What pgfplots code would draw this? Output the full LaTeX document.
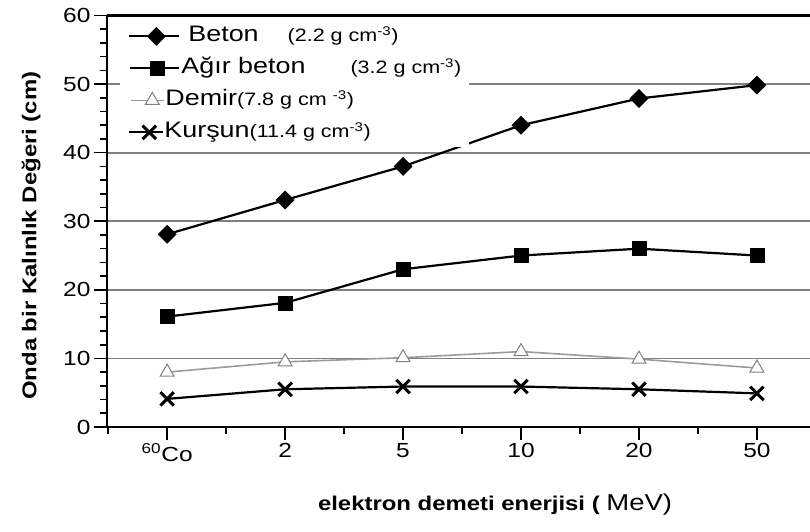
\documentclass[border=0pt]{standalone}
\usepackage{fontspec}
\setmainfont{Liberation Sans}
\usepackage{graphicx}
\usepackage{pgfplots}
\pgfplotsset{compat=1.18}
\usetikzlibrary{calc}
\newcommand{\sx}[1]{\scalebox{1.2}[1]{#1}}
\definecolor{gridc}{RGB}{128,128,128}
\definecolor{demirc}{RGB}{155,155,155}

\begin{document}
\begin{tikzpicture}
\begin{axis}[
  scale only axis, width=703bp, height=411.5bp,
  xmin=-0.51, xmax=5.45, ymin=0, ymax=60,
  axis lines=left, axis line style={-, line width=2.8bp},
  xtick={0,...,5},
  xticklabels={\sx{\textsuperscript{60}Co},\sx{2},\sx{5},\sx{10},\sx{20},\sx{50}},
  minor xtick={-0.5,0.5,1.5,2.5,3.5,4.5},
  ytick={0,10,...,60},
  yticklabel={\sx{\pgfmathprintnumber{\tick}}},
  minor y tick num=4,
  tick align=outside,
  major tick length=13bp, minor tick length=7bp,
  tick style={black, line width=1.6bp},
  ymajorgrids, major grid style={gridc, line width=1.8bp},
  /pgf/number format/assume math mode=true,
  tick label style={font=\fontsize{20.5}{20.5}\selectfont},
  ylabel={\sx{\bfseries Onda bir Kalınlık Değeri (cm)}},
  ylabel style={at={(rel axis cs:-0.108,0.465)}, anchor=center, font=\fontsize{20}{20}\selectfont},
  xlabel={\sx{\textbf{elektron demeti enerjisi (} {\fontsize{23}{23}\selectfont MeV)}}},
  xlabel style={at={(rel axis cs:0.552,0)}, anchor=center, yshift=-78bp, font=\fontsize{20}{20}\selectfont},
  legend style={at={(rel axis cs:0.0185,0.985)}, anchor=north west, draw=none, fill=white,
    inner xsep=8bp, inner ysep=4bp, row sep=11bp, column sep=8bp,
    nodes={inner sep=0pt, text height=16bp, text depth=5bp}},
  legend cell align=left,
  extra description/.code={\draw[line width=2.8bp] (rel axis cs:0,1) -- (rel axis cs:1,1);},
]
\addplot[black, line width=2.2bp, mark=square*, mark size=6.4bp, mark options={rotate=45, solid, line width=0.5bp},
  legend image code/.code={\draw[mark repeat=2, mark phase=2] plot coordinates {(0bp,0bp) (27bp,0bp) (50bp,0bp)};}]
  coordinates {(0,28.1) (1,33.1) (2,38) (3,44) (4,47.9) (5,49.85)};
\addlegendentry{\sx{\fontsize{22.5}{22.5}\selectfont Beton}\hspace{29bp}\sx{\fontsize{18}{18}\selectfont (2.2 g cm\textsuperscript{-3})}}

\addplot[black, line width=2.2bp, mark=square*, mark size=7bp, mark options={solid, line width=0.5bp},
  legend image code/.code={\draw[mark repeat=2, mark phase=2] plot coordinates {(1bp,0bp) (28bp,0bp) (50bp,0bp)};}]
  coordinates {(0,16.1) (1,18.1) (2,23) (3,25) (4,26) (5,25)};
\addlegendentry{\hspace{-7bp}\sx{\fontsize{22.5}{22.5}\selectfont Ağır beton}\hspace{45bp}\sx{\fontsize{18}{18}\selectfont (3.2 g cm\textsuperscript{-3})}}

\addplot[demirc, line width=1.6bp, mark=triangle*, mark size=8bp, mark options={solid, fill=white, draw=gridc, line width=1bp},
  legend image code/.code={\draw[mark repeat=2, mark phase=2] plot coordinates {(2bp,0bp) (23bp,0bp) (35bp,0bp)};}]
  coordinates {(0,8) (1,9.5) (2,10.1) (3,11) (4,9.9) (5,8.6)};
\addlegendentry{\hspace{-23bp}\sx{\fontsize{22.5}{22.5}\selectfont Demir}\sx{\fontsize{18}{18}\selectfont (7.8 g cm \textsuperscript{-3})}}

\addplot[black, line width=2.2bp, mark=x, mark size=9.5bp, mark options={solid, line width=3bp},
  legend image code/.code={\draw[mark repeat=2, mark phase=2] plot coordinates {(0bp,0bp) (20bp,0bp) (34bp,0bp)};}]
  coordinates {(0,4.1) (1,5.5) (2,5.9) (3,5.9) (4,5.5) (5,4.9)};
\addlegendentry{\hspace{-24bp}\sx{\fontsize{22.5}{22.5}\selectfont Kurşun}\sx{\fontsize{18}{18}\selectfont (11.4 g cm\textsuperscript{-3})}}

\coordinate (SW) at (rel axis cs:0,0);
\coordinate (NE) at (rel axis cs:1,1);
\end{axis}
\pgfresetboundingbox
\path[use as bounding box] ($(SW)+(-107bp,-105bp)$) rectangle ($(NE)+(0bp,15.5bp)$);
\end{tikzpicture}
\end{document}
